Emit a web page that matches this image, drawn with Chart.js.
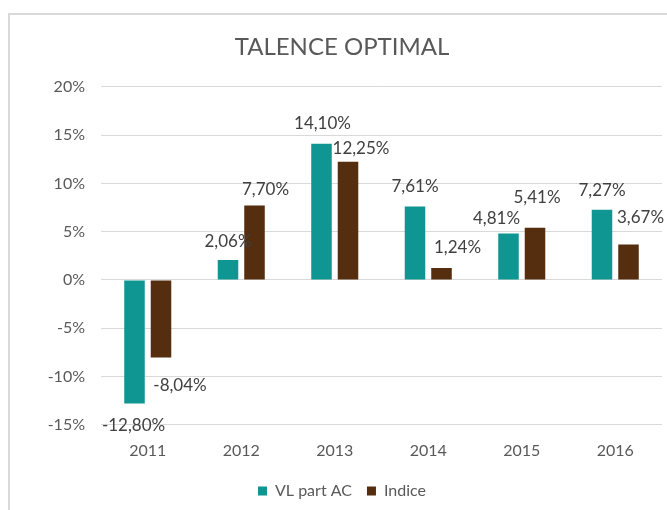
<!DOCTYPE html>
<html>
<head>
<meta charset="utf-8">
<script src="https://cdn.jsdelivr.net/npm/chart.js@4"></script>
<style>
  html, body { margin: 0; padding: 0; background: #fff; overflow: hidden; }
  #frame {
    position: absolute; left: 8px; top: 13px;
    width: 664px; height: 520px;
    border: 2px solid #d9d9d9;
  }
</style>
</head>
<body>
<div id="frame"><canvas id="chart" width="664" height="494"></canvas></div>
<script>
// data
const years = ['2011', '2012', '2013', '2014', '2015', '2016'];
const vlPartAC = [-12.80, 2.06, 14.10, 7.61, 4.81, 7.27];
const indice = [-8.04, 7.70, 12.25, 1.24, 5.41, 3.67];
const yTicks = [-15, -10, -5, 0, 5, 10, 15, 20];

const TEXT = '#595959';
const FONT = 'Lato, "Open Sans", sans-serif';

const fmt = v => v.toFixed(2).replace('.', ',') + '%';

// labels were hand-placed in the original, so nudge each one a bit
const labelNudge = [
    [[-1, 22], [0, -19], [1, -20], [0, -20], [-12, -15], [0, -19]],
    [[19, 28], [11, -16], [13, -13], [16, -20], [2, -30], [12, -27]]
];

const barLabels = {
    id: 'barLabels',
    afterDatasetsDraw(chart) {
        const ctx = chart.ctx;
        ctx.save();
        ctx.font = '17px ' + FONT;
        ctx.fillStyle = '#404040';
        ctx.textAlign = 'center';
        ctx.textBaseline = 'middle';
        chart.data.datasets.forEach((ds, i) => {
            chart.getDatasetMeta(i).data.forEach((bar, j) => {
                const [dx, dy] = labelNudge[i][j];
                ctx.fillText(fmt(ds.data[j]), bar.x + dx, bar.y + dy);
            });
        });
        ctx.restore();
    }
};

new Chart(document.getElementById('chart'), {
    type: 'bar',
    data: {
        labels: years,
        datasets: [
            { label: 'VL part AC', data: vlPartAC, backgroundColor: '#0f9692' },
            { label: 'Indice', data: indice, backgroundColor: '#552d0f' }
        ]
    },
    options: {
        responsive: false,
        animation: false,
        categoryPercentage: 0.567,
        barPercentage: 0.774,
        layout: { padding: { left: 12, right: 12, top: 0, bottom: 0 } },
        plugins: {
            tooltip: { enabled: false },
            title: {
                display: true,
                text: 'TALENCE OPTIMAL',
                color: TEXT,
                font: { family: FONT, size: 24, weight: 'normal' },
                padding: { top: 18, bottom: 25 }
            },
            legend: {
                position: 'bottom',
                labels: {
                    color: TEXT,
                    font: { family: FONT, size: 16 },
                    boxWidth: 9,
                    boxHeight: 9,
                    padding: 15
                }
            }
        },
        scales: {
            x: {
                grid: { display: false },
                border: { display: false },
                ticks: { color: TEXT, font: { family: FONT, size: 16 }, padding: 8 }
            },
            y: {
                min: -15,
                max: 20,
                afterFit(scale) { scale.width = 79; },
                afterBuildTicks(scale) { scale.ticks = yTicks.map(v => ({ value: v })); },
                grid: { color: '#d9d9d9', drawTicks: false },
                border: { display: false },
                ticks: {
                    color: TEXT,
                    font: { family: FONT, size: 16 },
                    padding: 16,
                    callback: v => v + '%'
                }
            }
        }
    },
    plugins: [barLabels]
});
</script>
</body>
</html>
